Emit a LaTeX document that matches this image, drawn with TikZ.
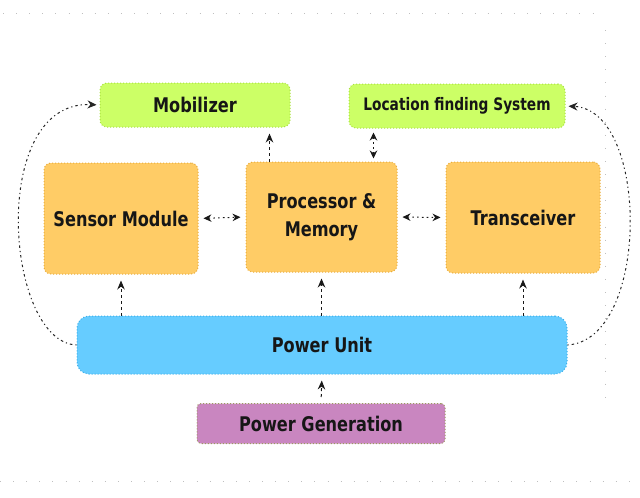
\documentclass[tikz,border=0pt]{standalone}
\usepackage{fontspec}
\newfontfamily\lab[FakeStretch=0.8]{DejaVu Sans}
\usetikzlibrary{arrows.meta,calc}
\definecolor{gfill}{HTML}{CCFF66}
\definecolor{gdraw}{HTML}{A8E040}
\definecolor{ofill}{HTML}{FFCC66}
\definecolor{odraw}{HTML}{E8AC3C}
\definecolor{bfill}{HTML}{66CCFF}
\definecolor{bdraw}{HTML}{3AAEE8}
\definecolor{pfill}{HTML}{C986C0}
\definecolor{pdraw}{HTML}{9C9A60}
\definecolor{txt}{HTML}{161616}
\tikzset{
  box/.style={rounded corners=7pt, line width=1pt, dotted, text=txt,
    font=\lab\bfseries\fontsize{20.2}{28}\selectfont, align=center,
    inner sep=0pt},
  gbox/.style={box, fill=gfill, draw=gdraw},
  obox/.style={box, fill=ofill, draw=odraw},
  bbox/.style={box, fill=bfill, draw=bdraw},
  pbox/.style={box, fill=pfill, draw=pdraw},
  conn/.style={line width=1pt, black!90, dash pattern=on 1.6pt off 3.2pt,
    {Stealth[length=8pt,width=7.5pt]}-{Stealth[length=8pt,width=7.5pt]},
    shorten <=5pt, shorten >=5pt},
  up/.style={line width=1pt, black!90, dash pattern=on 3pt off 3pt,
    -{Stealth[length=9pt,width=7.5pt]}, shorten >=6pt},
  arc/.style={line width=1pt, black!85, dash pattern=on 1.2pt off 3pt on 2.5pt off 3pt,
    -{Stealth[length=9pt,width=8pt]}, shorten >=3pt},
  frame/.style={black!25, line width=0.8pt, dash pattern=on 0.8pt off 12.3pt}
}
\begin{document}
\begin{tikzpicture}[x=1pt,y=-1pt]
\useasboundingbox (0,0) rectangle (640,498);
% faint frame
\draw[frame] (3,13) -- (600,13);
\draw[frame] (605,30) -- (605,400);
\draw[frame] (0,481) -- (632,481);
% boxes
\node[gbox, minimum width=190pt, minimum height=44pt] (mob) at (195,105) {Mobilizer};
\node[gbox, minimum width=216pt, minimum height=44pt, font=\lab\bfseries\fontsize{17.2}{20}\selectfont] (loc) at (457,106) {Location finding System};
\node[obox, minimum width=154pt, minimum height=111pt] (sens) at (121,218.5) {Sensor Module};
\node[obox, minimum width=151pt, minimum height=110pt] (proc) at (321.5,217) {Processor \&\\[0pt]Memory};
\node[obox, minimum width=154pt, minimum height=111pt] (trx) at (523,217.5) {Transceiver};
\node[bbox, minimum width=490pt, minimum height=58pt, rounded corners=12pt] (pu) at (322,345) {Power Unit};
\node[pbox, minimum width=248pt, minimum height=40pt, rounded corners=4pt] (pg) at (321,423.5) {Power Generation};
% horizontal links
\draw[conn] (sens.east) -- (proc.west);
\draw[conn] (proc.east) -- (trx.west);
% processor to mobilizer
\coordinate (pm) at ([xshift=24pt]proc.north west);
\draw[up] (pm) -- (pm |- mob.south);
% location <-> processor
\coordinate (pl) at ([xshift=128pt]proc.north west);
\draw[conn, shorten <=4pt, shorten >=3pt] (pl |- loc.south) -- (pl);
% power unit to modules
\draw[up] (pu.north -| sens) -- (sens.south);
\draw[up] (pu.north -| proc) -- (proc.south);
\draw[up] (pu.north -| trx) -- (trx.south);
% power generation to power unit
\draw[up, shorten <=6pt] (pg.north) -- (pu.south);
% side arcs
\draw[arc] (pu.west) .. controls (5,342) and (-12,100) .. (mob.west);
\draw[arc] (pu.east) .. controls (650,340) and (650,110) .. (loc.east);
\end{tikzpicture}
\end{document}
